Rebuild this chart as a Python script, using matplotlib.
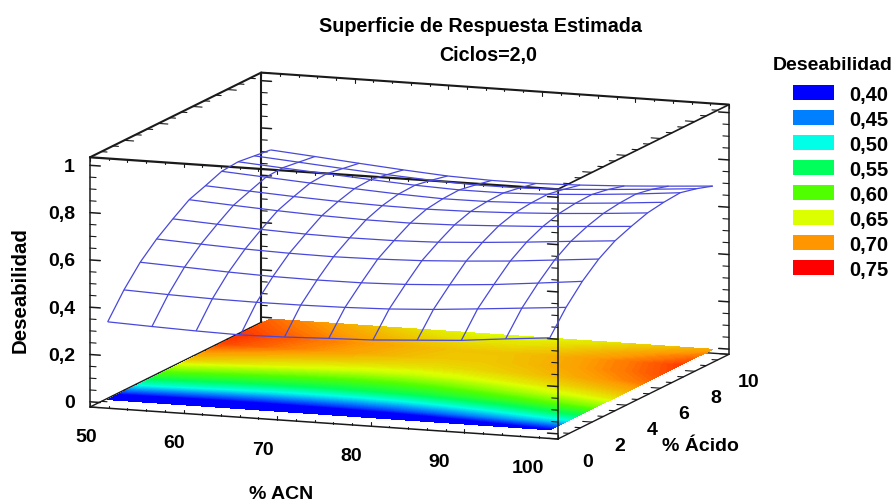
# Superficie de respuesta - Deseabilidad
import numpy as np
import matplotlib
matplotlib.use('Agg')
import matplotlib.pyplot as plt
from matplotlib.colors import LinearSegmentedColormap, Normalize
from matplotlib.patches import Rectangle
from mpl_toolkits.mplot3d import proj3d

plt.rcParams['font.family'] = ['Liberation Sans', 'DejaVu Sans']
plt.rcParams['font.weight'] = 'bold'

# Data
acn = [51.25, 55.98, 60.70, 65.43, 70.15, 74.88, 79.60, 84.33, 89.05, 93.78, 98.50]
acido = [0.35, 1.30, 2.25, 3.21, 4.16, 5.11, 6.06, 7.01, 7.97, 8.92, 9.87]
deseabilidad = [
    [.329, .322, .316, .312, .316, .323, .329, .341, .353, .372, .389],
    [.430, .423, .418, .416, .417, .420, .426, .437, .452, .468, .484],
    [.513, .505, .497, .491, .489, .490, .496, .507, .521, .540, .560],
    [.577, .568, .560, .555, .553, .556, .562, .573, .586, .603, .620],
    [.628, .618, .609, .602, .599, .600, .606, .618, .632, .648, .663],
    [.675, .664, .654, .646, .641, .640, .645, .654, .664, .677, .690],
    [.700, .690, .680, .672, .667, .665, .668, .675, .685, .698, .713],
    [.727, .715, .703, .692, .682, .675, .676, .683, .694, .708, .724],
    [.733, .720, .708, .696, .685, .678, .678, .685, .697, .712, .730],
    [.724, .710, .696, .683, .672, .665, .665, .672, .684, .698, .713],
    [.715, .700, .684, .669, .656, .650, .650, .656, .665, .677, .690],
]
legend_values = [0.40, 0.45, 0.50, 0.55, 0.60, 0.65, 0.70, 0.75]
legend_labels = ['0,40', '0,45', '0,50', '0,55', '0,60', '0,65', '0,70', '0,75']
legend_colors = ['#0000ff', '#0080ff', '#00ffe6', '#00ff5a',
                 '#50ff00', '#dcff00', '#ff9600', '#ff0000']
x_ticks = [50, 60, 70, 80, 90, 100]
y_ticks = [0, 2, 4, 6, 8, 10]
z_ticks = [0, 0.2, 0.4, 0.6, 0.8, 1]
z_tick_labels = ['0', '0,2', '0,4', '0,6', '0,8', '1']

XMIN, XMAX = 50, 100
YMIN, YMAX = 0, 10
ZMIN, ZMAX = -0.022, 1.034
W, H = 896, 502
TEXT_DY = 2  # va='center' sits a bit high because of the descent


def fx(px):
    return px / W


def fy(py):
    return 1 - py / H


def label(px, py, s, size=14, ha='center', **kw):
    fig.text(fx(px), fy(py + TEXT_DY), s, ha=ha, va='center', fontsize=size, **kw)


fig = plt.figure(figsize=(W / 100, H / 100), dpi=100)
ax = fig.add_axes([0.1, 0.1, 0.5, 0.5 * W / H], projection='3d', computed_zorder=False)
ax.set_proj_type('ortho')
ax.view_init(elev=10.6, azim=-69.6)
ax.set_box_aspect((499, 491, 254))
ax.set_axis_off()
ax.patch.set_alpha(0)

X, Y = np.meshgrid(acn, acido)
Z = np.array(deseabilidad)

# Floor map and wire surface
cmap = LinearSegmentedColormap.from_list(
    'des', [((v - 0.40) / 0.35, c) for v, c in zip(legend_values, legend_colors)])
ax.contourf(X, Y, Z, levels=np.linspace(0.30, 0.75, 181), zdir='z', offset=0,
            cmap=cmap, norm=Normalize(0.40, 0.75), extend='both', zorder=2)
ax.plot_wireframe(X, Y, Z, color='#4848dc', linewidth=0.9, zorder=4)


def edge(xs, ys, zs, lw=1.0, zo=3):
    ax.plot(xs, ys, zs, color='#1a1a1a', linewidth=lw, zorder=zo, solid_capstyle='round')


# Box, the edges behind the floor first
edge([XMIN, XMIN], [YMAX, YMAX], [ZMIN, ZMAX], 1.5, 1)
edge([XMIN, XMIN], [YMIN, YMAX], [ZMIN, ZMIN], 1.0, 1)
edge([XMIN, XMAX], [YMAX, YMAX], [ZMIN, ZMIN], 1.0, 1)
edge([XMIN, XMAX], [YMIN, YMIN], [ZMIN, ZMIN], 1.1)
edge([XMAX, XMAX], [YMIN, YMAX], [ZMIN, ZMIN], 1.0)
edge([XMIN, XMIN], [YMIN, YMIN], [ZMIN, ZMAX], 1.1)
edge([XMAX, XMAX], [YMIN, YMIN], [ZMIN, ZMAX], 1.1)
edge([XMAX, XMAX], [YMAX, YMAX], [ZMIN, ZMAX], 1.1)
edge([XMIN, XMAX], [YMIN, YMIN], [ZMAX, ZMAX], 1.6)
edge([XMAX, XMAX], [YMIN, YMAX], [ZMAX, ZMAX], 1.2)
edge([XMIN, XMIN], [YMIN, YMAX], [ZMAX, ZMAX], 1.5)
edge([XMIN, XMAX], [YMAX, YMAX], [ZMAX, ZMAX], 1.5)

# Tick marks on every edge of the box
for zv in np.arange(0, 1.001, 0.05):
    major = abs(zv * 5 - round(zv * 5)) < 1e-6
    ln = 1.1 if major else 0.65
    w = 1.1 if major else 0.8
    for xb, yb, sgn, zo in [(XMIN, YMIN, 1, 3), (XMIN, YMAX, 1, 1), (XMAX, YMIN, -1, 3), (XMAX, YMAX, -1, 1)]:
        edge([xb, xb + sgn * ln], [yb, yb], [zv, zv], w, zo)

for xv in np.arange(XMIN, XMAX + 0.01, 2):
    major = abs(xv % 10) < 1e-6
    ln = 0.016 if major else 0.008
    for yb, zb, sgn in [(YMIN, ZMIN, 1), (YMIN, ZMAX, -1), (YMAX, ZMAX, -1)]:
        edge([xv, xv], [yb, yb], [zb, zb + sgn * ln], 0.8)

for yv in np.arange(YMIN, YMAX + 0.01, 2 / 3):
    major = abs(yv / 2 - round(yv / 2)) < 1e-6
    ln = 1.0 if major else 0.6
    for xb, zb, sgn in [(XMIN, ZMAX, 1), (XMAX, ZMIN, -1), (XMAX, ZMAX, -1), (XMIN, ZMIN, 1)]:
        edge([xb, xb + sgn * ln], [yv, yv], [zb, zb], 0.8, 1 if zb == ZMIN and xb == XMIN else 3)

ax.set_xlim(XMIN, XMAX, view_margin=0)
ax.set_ylim(YMIN, YMAX, view_margin=0)
ax.set_zlim(ZMIN, ZMAX, view_margin=0)

# Place the axes so the box lands on the same pixels as the reference
ax.apply_aspect()
M = ax.get_proj()


def axes_uv(x, y, z):
    xp, yp, _ = proj3d.proj_transform(x, y, z, M)
    return ax.transAxes.inverted().transform(ax.transData.transform((xp, yp)))


left = axes_uv(XMIN, YMIN, ZMIN)
right = axes_uv(XMAX, YMAX, ZMIN)
S = 639 / (right[0] - left[0])
L = 90 - S * left[0]
B = (H - 405 - 3) - S * left[1]
ax.set_position([L / W, B / H, S / W, S / H])
ax.apply_aspect()


def tick_label(x, y, z, s, ha='center'):
    # project the 3D anchor through the axes, the text itself is flat
    xp, yp, _ = proj3d.proj_transform(x, y, z, M)
    px, py = ax.transData.transform((xp, yp))
    fig.text(px / W, (py - TEXT_DY) / H, s, ha=ha, va='center', fontsize=14)


# Tick labels
zr = ZMAX - ZMIN
for v in x_ticks:
    tick_label(50 + (v - 50) * 0.944, -0.234, ZMIN - 26 / 250 * zr, str(v))
for v in y_ticks:
    tick_label(100, 1.754 + v * 0.936, ZMIN - 34.9 / 250 * zr, str(v))
for v, lab in zip(z_ticks, z_tick_labels):
    tick_label(48.4, 0, v, lab, ha='right')

# Titles
label(480, 24, 'Superficie de Respuesta Estimada', 14.2)
label(488, 53, 'Ciclos=2,0', 14.2)
label(20, 288, 'Deseabilidad', 14.7, rotation=90)
label(281.5, 493, '% ACN', 14)
label(700, 445, '% Ácido', 14)

# Legend
label(833, 64, 'Deseabilidad', 14)
for i, (lab, c) in enumerate(zip(legend_labels, legend_colors)):
    yc = 93.5 + i * 25
    fig.add_artist(Rectangle((fx(793), fy(yc + 7.5)), 41 / W, 15 / H, transform=fig.transFigure,
                             facecolor=c, edgecolor='none'))
    label(849, yc, lab, 14.5, ha='left')

fig.savefig('out.png', dpi=100)
